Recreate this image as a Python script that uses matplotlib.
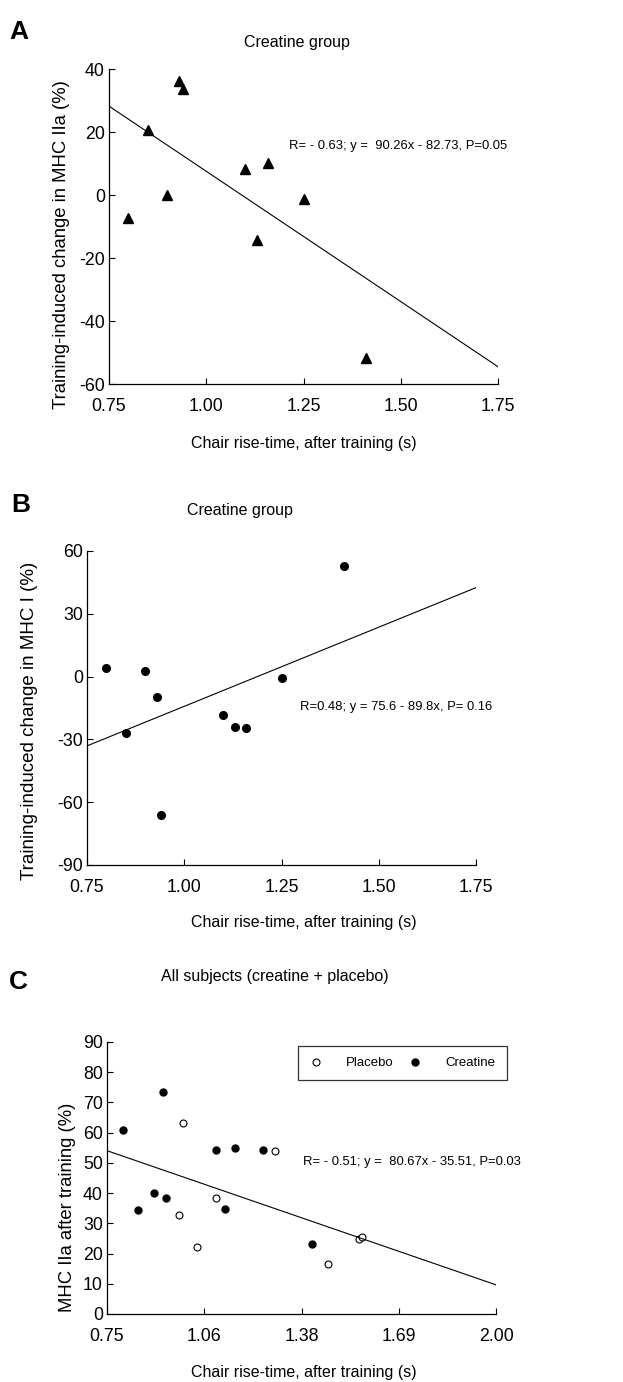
import matplotlib
matplotlib.use('Agg')
from matplotlib import pyplot
import numpy as np

pyplot.rcParams['font.family'] = ['Liberation Sans', 'DejaVu Sans']
pyplot.rcParams['axes.unicode_minus'] = False

# chair rise-time after training (s), creatine subjects
rise_time = [0.80, 0.85, 0.90, 0.93, 0.94, 1.10, 1.13, 1.16, 1.25, 1.41]
# A: change in MHC IIa (%)
mhc_iia_change = [-7.4, 20.5, 0.0, 36.3, 33.5, 8.4, -14.4, 10.3, -1.2, -51.7]
# B: change in MHC I (%)
mhc_i_change = [4.0, -27.0, 2.7, -9.7, -66.0, -18.4, -24.0, -24.6, -0.5, 52.7]
# C: MHC IIa after training (%)
creatine_iia = [60.8, 34.3, 40.1, 73.3, 38.4, 54.1, 34.8, 54.9, 54.1, 23.0]
placebo_time = [0.98, 0.995, 1.04, 1.10, 1.29, 1.46, 1.56, 1.57]
placebo_iia = [32.7, 63.1, 22.2, 38.5, 54.0, 16.5, 24.7, 25.6]

# regression lines (intercept, slope)
fit_a = (90.26, -82.73)
fit_b = (-89.8, 75.6)
fit_c = (80.67, -35.51)

W, H = 623, 1382
fig = pyplot.figure(figsize=(W / 100, H / 100), dpi=100)


def fx(x):
    return x / W


def fy(y):
    return 1 - y / H


def style_axes(ax):
    for s in ['top', 'right']:
        ax.spines[s].set_visible(False)
    for s in ['left', 'bottom']:
        ax.spines[s].set_linewidth(0.9)
    ax.tick_params(direction='in', length=4, width=0.8, labelsize=12.8)
    ax.tick_params(axis='x', pad=10)
    ax.tick_params(axis='y', pad=3)


def draw_fit(ax, fit, x0, x1):
    xs = np.array([x0, x1])
    ax.plot(xs, fit[0] + fit[1] * xs, color='black', lw=0.8)


# ---- panel A
axA = fig.add_axes([fx(109), fy(384), fx(389), (384 - 69) / H])
axA.plot(rise_time, mhc_iia_change, '^', color='black', ms=6.5, clip_on=False)
draw_fit(axA, fit_a, 0.75, 1.75)
axA.set_xlim(0.75, 1.75)
axA.set_ylim(-60, 40)
axA.set_xticks([0.75, 1.00, 1.25, 1.50, 1.75])
axA.set_xticklabels(['0.75', '1.00', '1.25', '1.50', '1.75'])
axA.set_yticks([40, 20, 0, -20, -40, -60])
style_axes(axA)
axA.text(1.213, 15.4, 'R= - 0.63; y =  90.26x - 82.73, P=0.05', fontsize=9.4, va='center')

# ---- panel B
axB = fig.add_axes([fx(87), fy(865), fx(389), (865 - 551) / H])
axB.plot(rise_time, mhc_i_change, 'o', color='black', ms=5.5, clip_on=False)
draw_fit(axB, fit_b, 0.75, 1.75)
axB.set_xlim(0.75, 1.75)
axB.set_ylim(-90, 60)
axB.set_xticks([0.75, 1.00, 1.25, 1.50, 1.75])
axB.set_xticklabels(['0.75', '1.00', '1.25', '1.50', '1.75'])
axB.set_yticks([60, 30, 0, -30, -60, -90])
style_axes(axB)
axB.text(1.297, -14.3, 'R=0.48; y = 75.6 - 89.8x, P= 0.16', fontsize=9.4, va='center')

# ---- panel C
axC = fig.add_axes([fx(107), fy(1314), fx(389), (1314 - 1042) / H])
axC.plot(placebo_time, placebo_iia, 'o', mfc='white', mec='black', mew=0.8, ms=5,
         label='Placebo', clip_on=False)
axC.plot(rise_time, creatine_iia, 'o', color='black', ms=5, label='Creatine', clip_on=False)
draw_fit(axC, fit_c, 0.75, 2.00)
axC.set_xlim(0.75, 2.00)
axC.set_ylim(0, 90)
cticks = np.linspace(0.75, 2.00, 5)
axC.set_xticks(cticks)
axC.set_xticklabels(['%.2f' % t for t in cticks])
axC.set_yticks(range(0, 91, 10))
style_axes(axC)
axC.text(1.380, 50.4, 'R= - 0.51; y =  80.67x - 35.51, P=0.03', fontsize=9.4, va='center')
leg = axC.legend(ncol=2, loc='center', mode='expand', fontsize=9.5,
                 bbox_to_anchor=(fx(298), fy(1079), fx(209), (1079 - 1047) / H),
                 bbox_transform=fig.transFigure, fancybox=False, edgecolor='black',
                 handletextpad=1.8, columnspacing=1.5, borderaxespad=0,
                 handlelength=1, borderpad=0.85)
leg.get_frame().set_linewidth(0.9)

# ---- titles, labels, panel letters
fig.text(fx(9), fy(32), 'A', fontsize=19, fontweight='bold', va='center')
fig.text(fx(11), fy(505), 'B', fontsize=19, fontweight='bold', va='center')
fig.text(fx(9), fy(982), 'C', fontsize=19, fontweight='bold', va='center')

fig.text(fx(297), fy(42), 'Creatine group', fontsize=11.5, ha='center', va='center')
fig.text(fx(240), fy(510), 'Creatine group', fontsize=11.5, ha='center', va='center')
fig.text(fx(275), fy(977), 'All subjects (creatine + placebo)', fontsize=11.5,
         ha='center', va='center')

for yy in [443, 922, 1372]:
    fig.text(fx(304), fy(yy), 'Chair rise-time, after training (s)', fontsize=11.5,
             ha='center', va='center')

fig.text(fx(62), fy(245), 'Training-induced change in MHC IIa (%)', fontsize=13.3,
         rotation=90, ha='center', va='center')
fig.text(fx(30), fy(721), 'Training-induced change in MHC I (%)', fontsize=13.5,
         rotation=90, ha='center', va='center')
fig.text(fx(68), fy(1207), 'MHC IIa after training (%)', fontsize=13.3,
         rotation=90, ha='center', va='center')

fig.savefig('out.png', dpi=100)
